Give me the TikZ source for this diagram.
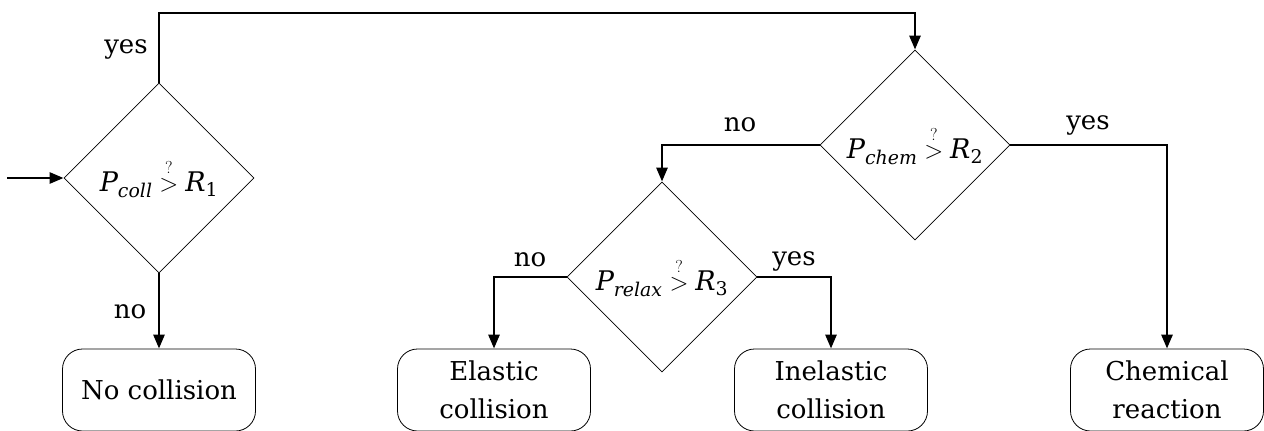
\documentclass[tikz,border=0pt]{standalone}
\usepackage{fontspec}
\usepackage{amsmath}
\setmainfont{DejaVu Serif}
\usetikzlibrary{shapes.geometric,arrows.meta}

\tikzset{
  decision/.style={draw, line width=0.8pt, diamond, inner sep=0pt,
    minimum width=190pt, minimum height=190pt, font=\fontsize{27}{32}\selectfont},
  outcome/.style={draw, line width=0.8pt, rounded corners=20pt, minimum width=193pt,
    minimum height=82pt, align=center, font=\fontsize{26}{38}\selectfont},
  conn/.style={line width=2.7pt, -{Triangle[length=14pt,width=11pt]}},
  lbl/.style={font=\fontsize{26}{30}\selectfont, inner sep=0pt, anchor=base},
}
\newcommand{\cmp}[3]{$\mathit{#1}_{\mathit{#2}}\overset{?}{>}\mathit{R}_{\mathrm{#3}}$}

\begin{document}
\begin{tikzpicture}[x=1pt,y=-1pt]
  \useasboundingbox (0,0) rectangle (1264,431);

  % decisions
  \node[decision] (d1) at (159,178) {\cmp{P}{coll}{1}};
  \node[decision] (d2) at (915,145) {\cmp{P}{chem}{2}};
  \node[decision] (d3) at (662,277) {\cmp{P}{relax}{3}};

  % outcomes
  \node[outcome] (nc) at (159,390) {No collision};
  \node[outcome] (el) at (494,390) {Elastic\\collision};
  \node[outcome] (inel) at (831,390) {Inelastic\\collision};
  \node[outcome] (ch) at (1167,390) {Chemical\\reaction};

  % helper points
  \coordinate (start) at (7,178);
  \coordinate (top) at (0,13);

  % connectors
  \draw[conn] (start) -- (d1.west);
  \draw[conn] (d1.north) -- (d1.north |- top) -| (d2.north);
  \draw[conn] (d1.south) -- (nc.north);
  \draw[conn] (d2.west) -| (d3.north);
  \draw[conn] (d2.east) -| (ch.north);
  \draw[conn] (d3.west) -| (el.north);
  \draw[conn] (d3.east) -| (inel.north);

  % branch labels
  \node[lbl] (y1) at (126,53) {yes};
  \node[lbl] (n1) at (130,318) {no};
  \node[lbl] (n2) at (740,131) {no};
  \node[lbl] (y2) at (1088,129) {yes};
  \node[lbl] (n3) at (530,266) {no};
  \node[lbl] (y3) at (794,265) {yes};
\end{tikzpicture}
\end{document}
